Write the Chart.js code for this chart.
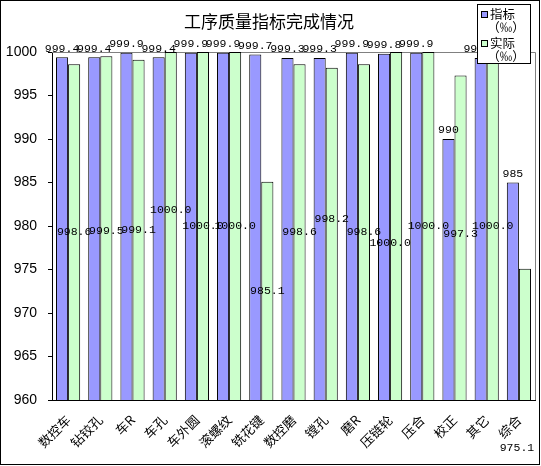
<!DOCTYPE html>
<html><head><meta charset="utf-8">
<script src="https://cdn.jsdelivr.net/npm/chart.js@4"></script>
<style>html,body{margin:0;padding:0;background:#fff}#wrap{width:541px;height:466px}</style>
</head><body><div id="wrap"><canvas id="c" width="541" height="466"></canvas></div>
<script>
const categories = ['数控车','钻铰孔','车R','车孔','车外圆','滚螺纹','铣花键','数控磨','镗孔','磨R','压链轮','压合','校正','其它','综合'];
const targetValues = [999.4,999.4,999.9,999.4,999.9,999.9,999.7,999.3,999.3,999.9,999.8,999.9,990,999.3,985];
const actualValues = [998.6,999.5,999.1,1000.0,1000.0,1000.0,985.1,998.6,998.2,998.6,1000.0,1000.0,997.3,1000.0,975.1];
const seriesNames = ['指标\n（‰）','实际\n（‰）'];
const yTicks = [960,965,970,975,980,985,990,995,1000];
// label nudges (pixels) for the "actual" value labels, as placed in the reference
const actualLabelDy = [0,3,0,-16,0,0,0,0,-15,0,17,0,-4,0,114];
const actualLabelDx = [0,0,0,0,0,0,0,0,0,0,-6,0,0,0,-8];

const TITLE = '工序质量指标完成情况';
const CJK = '"Noto Sans CJK SC", "Noto Sans", sans-serif';
const MONO = '"Liberation Mono", "DejaVu Sans Mono", monospace';

const deco = {
  id: 'deco',
  beforeDatasetsDraw(chart) {
    const {ctx, chartArea: a} = chart;
    ctx.save();
    ctx.strokeStyle = '#808080';
    ctx.lineWidth = 1;
    ctx.beginPath();
    ctx.moveTo(a.left, Math.round(a.top) + 0.5);
    ctx.lineTo(Math.round(a.right) + 0.5, Math.round(a.top) + 0.5);
    ctx.lineTo(Math.round(a.right) + 0.5, a.bottom);
    ctx.stroke();
    ctx.restore();
  },
  afterDatasetsDraw(chart) {
    const {ctx} = chart;
    const ys = chart.scales.y;
    ctx.save();
    ctx.fillStyle = '#000';
    ctx.font = '11.5px ' + MONO;
    ctx.textAlign = 'center';
    const m0 = chart.getDatasetMeta(0);
    m0.data.forEach((bar, i) => {
      ctx.textBaseline = 'bottom';
      ctx.fillText(String(targetValues[i]), bar.x, bar.y - 3);
    });
    const m1 = chart.getDatasetMeta(1);
    m1.data.forEach((bar, i) => {
      const mid = ys.getPixelForValue((actualValues[i] + ys.min) / 2);
      ctx.textBaseline = 'middle';
      ctx.fillText(actualValues[i].toFixed(1), bar.x + actualLabelDx[i], mid + actualLabelDy[i]);
    });
    ctx.restore();
  },
  afterDraw(chart) {
    const {ctx} = chart;
    ctx.save();
    ctx.fillStyle = '#000';
    ctx.font = '17px ' + CJK;
    ctx.textAlign = 'center';
    ctx.textBaseline = 'middle';
    ctx.fillText(TITLE, 269, 22);
    const lx = 477, ly = 4, lw = 53, lh = 59;
    ctx.fillStyle = '#fff';
    ctx.fillRect(lx, ly, lw, lh);
    ctx.strokeStyle = '#000';
    ctx.lineWidth = 1;
    ctx.strokeRect(lx + 0.5, ly + 0.5, lw, lh);
    ctx.font = '12.5px ' + CJK;
    chart.data.datasets.forEach((ds, i) => {
      const y0 = ly + 10 + i * 29;
      ctx.fillStyle = ds.backgroundColor;
      ctx.fillRect(lx + 4, y0 - 3, 7, 7);
      ctx.strokeStyle = '#000';
      ctx.strokeRect(lx + 4.5, y0 - 2.5, 6, 6);
      ctx.fillStyle = '#000';
      const lines = ds.label.split('\n');
      ctx.textAlign = 'left';
      ctx.fillText(lines[0], lx + 13, y0);
      ctx.textAlign = 'center';
      ctx.fillText(lines[1], lx + 29, y0 + 13);
    });
    ctx.strokeStyle = '#000';
    ctx.strokeRect(0.5, 0.5, 539, 464);
    ctx.restore();
  }
};

new Chart(document.getElementById('c'), {
  type: 'bar',
  data: {
    labels: categories,
    datasets: [
      {label: seriesNames[0], data: targetValues, backgroundColor: '#9999FF', borderColor: '#000', borderWidth: 1, categoryPercentage: 0.75, barPercentage: 1.0},
      {label: seriesNames[1], data: actualValues, backgroundColor: '#CCFFCC', borderColor: '#000', borderWidth: 1, categoryPercentage: 0.75, barPercentage: 1.0}
    ]
  },
  options: {
    responsive: false,
    animation: false,
    devicePixelRatio: 1,
    layout: {padding: {top: 52, right: 6, left: 0, bottom: 0}},
    plugins: {legend: {display: false}, tooltip: {enabled: false}, title: {display: false}},
    scales: {
      x: {
        grid: {display: false},
        border: {display: true, color: '#000'},
        ticks: {color: '#000', font: {family: CJK, size: 13}, minRotation: 45, maxRotation: 45, autoSkip: false, padding: 4},
        afterFit(s) { s.height = 66; }
      },
      y: {
        min: yTicks[0], max: yTicks[yTicks.length - 1],
        afterBuildTicks(s) { s.ticks = yTicks.map(v => ({value: v})); },
        grid: {drawOnChartArea: false, drawTicks: true, tickLength: 4, color: '#000'},
        border: {display: true, color: '#000'},
        ticks: {color: '#000', font: {family: '"Liberation Sans", Arial, sans-serif', size: 14}, padding: 11, callback: v => String(v)},
        afterFit(s) { s.width = 52; }
      }
    }
  },
  plugins: [deco]
});
</script>
</body></html>
